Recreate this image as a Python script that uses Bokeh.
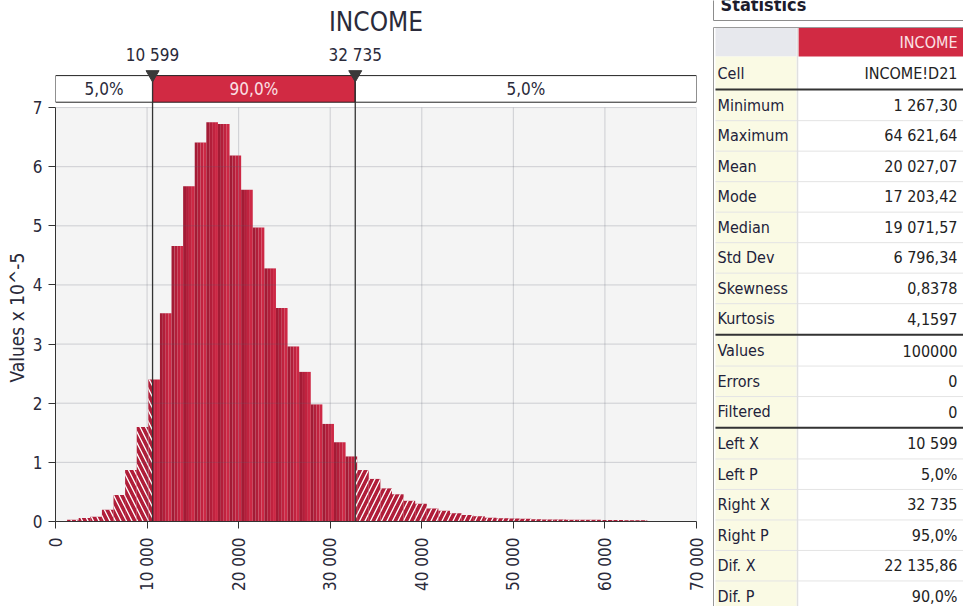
import numpy as np
from bokeh.plotting import figure
from bokeh.layouts import row
from bokeh.models import Range1d, FixedTicker, Title
from bokeh.core.properties import value
from bokeh.embed import file_html
from bokeh.resources import INLINE

FONT = "DejaVu Sans Condensed"

# ---------------- data ----------------
title_text = "INCOME"
y_axis_label = "Values x 10^-5"
x_min = 1267.30
x_max = 64621.64
n_bins = 50
density = [0.03, 0.06, 0.08, 0.20, 0.45, 0.87, 1.60, 2.40,
           3.52, 4.66, 5.67, 6.41, 6.75, 6.72, 6.19, 5.61, 4.97, 4.28, 3.61,
           2.96, 2.53, 1.98, 1.65, 1.34, 1.10,
           0.87, 0.72, 0.56, 0.46, 0.35, 0.30, 0.22, 0.18, 0.14, 0.11, 0.09,
           0.065, 0.055, 0.05, 0.045, 0.04, 0.035, 0.035, 0.03, 0.03, 0.03,
           0.025, 0.025, 0.02, 0.02]
left_x = 10599
right_x = 32735
left_x_label = "10 599"
right_x_label = "32 735"
band_labels = ["5,0%", "90,0%", "5,0%"]
x_ticks = [0, 10000, 20000, 30000, 40000, 50000, 60000, 70000]
x_tick_labels = ["0", "10 000", "20 000", "30 000", "40 000", "50 000", "60 000", "70 000"]
y_ticks = [0, 1, 2, 3, 4, 5, 6, 7]

stats_header = "Statistics"
stats_column = "INCOME"
stat_labels = ["Cell", "Minimum", "Maximum", "Mean", "Mode", "Median", "Std Dev",
               "Skewness", "Kurtosis", "Values", "Errors", "Filtered",
               "Left X", "Left P", "Right X", "Right P", "Dif. X", "Dif. P"]
stat_values = ["INCOME!D21", "1 267,30", "64 621,64", "20 027,07", "17 203,42",
               "19 071,57", "6 796,34", "0,8378", "4,1597", "100000", "0", "0",
               "10 599", "5,0%", "32 735", "95,0%", "22 135,86", "90,0%"]
separator_after = [0, 8, 11]

# ---------------- histogram figure ----------------
H = 606
X0, X1 = 0, 70000
Y_TOP = 8.81
p = figure(width=708, height=H, x_range=Range1d(X0, X1), y_range=Range1d(0, Y_TOP),
           toolbar_location=None, output_backend="svg",
           min_border_left=55, min_border_right=12, min_border_top=0, min_border_bottom=85)
p.frame_align = False
p.background_fill_color = "white"
p.border_fill_color = "white"
p.outline_line_color = None
p.grid.visible = False

# plot area background
p.quad(left=[X0], right=[X1], bottom=[0], top=[y_ticks[-1]], fill_color="#f4f4f4", line_color=None)

# bars
w = (x_max - x_min) / n_bins
edges = [x_min + k * w for k in range(n_bins + 1)]
grad = ["#a31b35", "#b21e3a", "#c1223f", "#cd2845"]
hl = dict(left=[], right=[], top=[])
hr = dict(left=[], right=[], top=[])
sl = dict(left=[], right=[], top=[], color=[])
for k in range(n_bins):
    a, b, h = edges[k], edges[k + 1], density[k]
    if a < left_x:
        hl["left"].append(a); hl["right"].append(min(b, left_x)); hl["top"].append(h)
    s0, s1 = max(a, left_x), min(b, right_x)
    if s1 > s0:
        for j in range(4):
            c0 = a + j * w / 4
            c1 = a + (j + 1) * w / 4
            l0, l1 = max(c0, s0), min(c1, s1)
            if l1 > l0:
                sl["left"].append(l0); sl["right"].append(l1); sl["top"].append(h)
                sl["color"].append(grad[j])
    if b > right_x:
        hr["left"].append(max(a, right_x)); hr["right"].append(b); hr["top"].append(h)

p.quad(left=sl["left"], right=sl["right"], top=sl["top"], bottom=0,
       fill_color=sl["color"], line_color=None)
p.quad(left=hl["left"], right=hl["right"], top=hl["top"], bottom=0,
       fill_color="#b01d39", line_color=None,
       hatch_pattern="\\", hatch_color="white", hatch_weight=1.3, hatch_scale=11)
p.quad(left=hr["left"], right=hr["right"], top=hr["top"], bottom=0,
       fill_color="#b01d39", line_color=None,
       hatch_pattern="/", hatch_color="white", hatch_weight=1.3, hatch_scale=11)

# grid (drawn over bars, translucent)
gx = [t for t in x_ticks if X0 < t <= X1]
p.segment(x0=gx, x1=gx, y0=[0] * len(gx), y1=[y_ticks[-1]] * len(gx),
          line_color="#5a6070", line_alpha=0.25, line_width=1)
gy = [t for t in y_ticks if t > 0]
p.segment(x0=[X0] * len(gy), x1=[X1] * len(gy), y0=gy, y1=gy,
          line_color="#5a6070", line_alpha=0.25, line_width=1)

# band
BAND_B, BAND_T = 7.09, 7.54
p.quad(left=[X0, left_x, right_x], right=[left_x, right_x, X1],
       bottom=[BAND_B] * 3, top=[BAND_T] * 3,
       fill_color=["white", "#d12a43", "white"], line_color="#222222", line_width=1)
p.text(x=[(X0 + left_x) / 2, (left_x + right_x) / 2, (right_x + X1) / 2],
       y=[(BAND_B + BAND_T) / 2] * 3, text=band_labels,
       text_font=value(FONT), text_font_size="17px", text_align="center",
       text_baseline="middle", text_color=["#2a2a3a", "#fbe0e5", "#2a2a3a"])

# threshold lines
p.segment(x0=[left_x, right_x], x1=[left_x, right_x], y0=[0, 0], y1=[BAND_T, BAND_T],
          line_color="#333333", line_width=1.3)
p.scatter(x=[left_x, right_x], y=[7.56, 7.56], marker="inverted_triangle", size=13,
          fill_color="#3a3a3a", line_color="#3a3a3a")
p.text(x=[left_x, right_x], y=[7.88, 7.88], text=[left_x_label, right_x_label],
       text_font=value(FONT), text_font_size="17px", text_align="center",
       text_baseline="middle", text_color="#2a2a3a")

# title
p.text(x=[(X0 + X1) / 2], y=[8.45], text=[title_text], text_font=value(FONT),
       text_font_size="26px", text_align="center", text_baseline="middle",
       text_color="#2a2a3a")

# axes
p.xaxis.ticker = FixedTicker(ticks=x_ticks)
p.xaxis.major_label_overrides = {t: l for t, l in zip(x_ticks, x_tick_labels)}
p.xaxis.major_label_orientation = np.pi / 2
p.xaxis.bounds = (X0, X1)
p.yaxis.ticker = FixedTicker(ticks=y_ticks)
p.yaxis.bounds = (0, y_ticks[-1])
for ax in (p.xaxis[0], p.yaxis[0]):
    ax.minor_tick_line_color = None
    ax.major_tick_in = 0
    ax.major_tick_out = 7
    ax.major_label_standoff = 6
    ax.axis_line_color = "#333333"
    ax.major_tick_line_color = "#333333"
    ax.major_label_text_font = FONT
    ax.major_label_text_font_size = "17px"
    ax.major_label_text_color = "#2a2a3a"
p.xaxis.major_label_standoff = 9

# y axis title as a side title, placed over the 0..7 span
p.add_layout(Title(text=y_axis_label, align="left", offset=139, standoff=3,
                   text_font=FONT, text_font_size="19px", text_font_style="normal",
                   text_color="#2a2a3a"), "left")

# ---------------- statistics table figure ----------------
TW = 255
t = figure(width=TW, height=H, x_range=Range1d(0, TW), y_range=Range1d(H, 0),
           toolbar_location=None, output_backend="svg", min_border=0,
           x_axis_location=None, y_axis_location=None)
t.frame_align = False
t.grid.visible = False
t.outline_line_color = None
t.background_fill_color = "white"
t.border_fill_color = "white"

LX0, LX1, RX0, RX1 = 7, 88, 90, TW + 2
# statistics box
t.quad(left=[5], right=[TW + 10], top=[-20], bottom=[20], fill_color="white", line_color="#8c8c8c")
t.text(x=[12], y=[4], text=[stats_header], text_font=value(FONT), text_font_size="18px",
       text_font_style="bold", text_baseline="alphabetic", text_color="#1c1c2c")

# header row
HT, HB = 27, 56
t.quad(left=[LX0, RX0], right=[LX1, RX1], top=[HT, HT], bottom=[HB, HB],
       fill_color=["#e7e8ed", "#d12a43"], line_color=None)
t.text(x=[TW - 6], y=[(HT + HB) / 2], text=[stats_column], text_font=value(FONT),
       text_font_size="16px", text_align="right", text_baseline="middle", text_color="#fbe2e6")

# rows
centers = []
y = 73.0
for i in range(len(stat_labels)):
    centers.append(y)
    y += 30.5 + (1.4 if i in separator_after else 0.0)
bounds = [HB] + [(centers[i] + centers[i + 1]) / 2 for i in range(len(centers) - 1)] + [centers[-1] + 16]
t.quad(left=[LX0] * len(centers), right=[LX1] * len(centers), top=bounds[:-1], bottom=bounds[1:],
       fill_color="#fafae4", line_color=None)
t.segment(x0=[LX0] * (len(bounds) - 2), x1=[RX1] * (len(bounds) - 2), y0=bounds[1:-1], y1=bounds[1:-1],
          line_color="#e4e4e4", line_width=1)
t.segment(x0=[89], x1=[89], y0=[HT], y1=[H], line_color="#e0e0e0", line_width=1.5)
sep_y = [bounds[i + 1] for i in separator_after]
t.segment(x0=[LX0] * len(sep_y), x1=[RX1] * len(sep_y), y0=sep_y, y1=sep_y,
          line_color="#333333", line_width=2)
t.segment(x0=[5], x1=[5], y0=[HT], y1=[H], line_color="#9a9a9a", line_width=1)
t.segment(x0=[5], x1=[RX1], y0=[HT], y1=[HT], line_color="#9a9a9a", line_width=1)

t.text(x=[LX0 + 2] * len(centers), y=centers, text=stat_labels, text_font=value(FONT),
       text_font_size="16px", text_align="left", text_baseline="middle", text_color="#22223a")
t.text(x=[TW - 6] * len(centers), y=centers, text=stat_values, text_font=value(FONT),
       text_font_size="16px", text_align="right", text_baseline="middle", text_color="#222222")

layout = row(p, t)
open("out.html", "w").write(file_html(layout, INLINE))
